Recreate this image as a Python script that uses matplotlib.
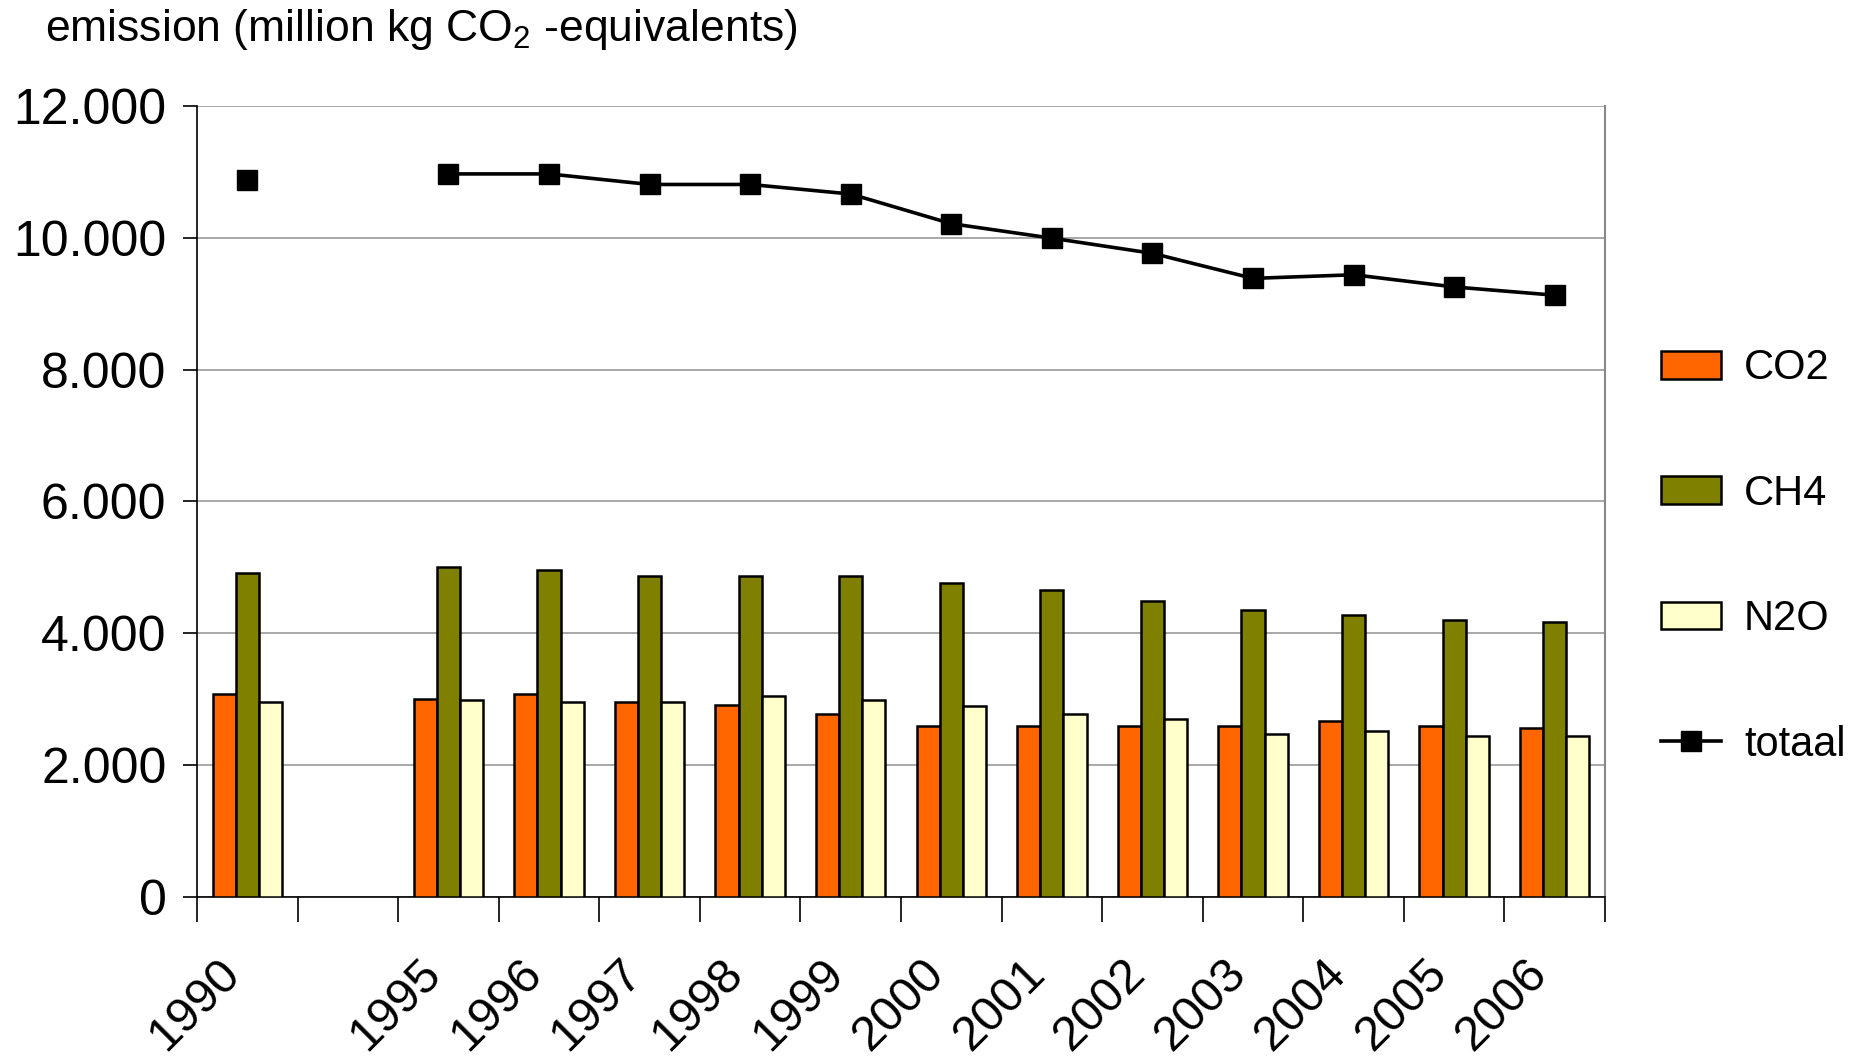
import matplotlib
matplotlib.use("Agg")
import matplotlib.pyplot as plt
import matplotlib.transforms as mtransforms
import numpy as np

plt.rcParams["font.family"] = ["Liberation Sans", "DejaVu Sans"]
plt.rcParams["mathtext.default"] = "regular"

# Categories (empty slot between 1990 and 1995)
years = ["1990", "", "1995", "1996", "1997", "1998", "1999", "2000",
         "2001", "2002", "2003", "2004", "2005", "2006"]
co2 = [3085, np.nan, 3010, 3085, 2960, 2920, 2780, 2600, 2600, 2600, 2600, 2670, 2600, 2560]
ch4 = [4910, np.nan, 5000, 4960, 4870, 4870, 4870, 4765, 4655, 4495, 4350, 4275, 4205, 4170]
n2o = [2960, np.nan, 2995, 2960, 2960, 3050, 2995, 2890, 2780, 2705, 2475, 2525, 2440, 2440]
totaal = [10880, np.nan, 10970, 10970, 10810, 10810, 10665, 10215, 9995, 9765, 9385, 9440, 9255, 9130]

fig = plt.figure(figsize=(18.65, 10.56), dpi=100)
ax = fig.add_axes([0.1056, 0.1506, 0.755, 0.749])

x = np.arange(len(years))
w = 0.23
b1 = ax.bar(x - w, co2, w, color="#FF6600", edgecolor="black", linewidth=1.8, label="CO2", zorder=3)
b2 = ax.bar(x, ch4, w, color="#808000", edgecolor="black", linewidth=1.8, label="CH4", zorder=3)
b3 = ax.bar(x + w, n2o, w, color="#FFFFCC", edgecolor="black", linewidth=1.8, label="N2O", zorder=3)
l1, = ax.plot(x, totaal, color="black", linewidth=2.6, marker="s", markersize=15, label="totaal", zorder=4)

ax.set_xlim(-0.5, len(years) - 0.5)
ax.set_ylim(0, 12000)
ax.set_yticks(np.arange(0, 12001, 2000))
ax.set_yticklabels(["0", "2.000", "4.000", "6.000", "8.000", "10.000", "12.000"])
ax.yaxis.grid(True, color="#999999", linewidth=1.2, zorder=0)
ax.tick_params(axis="y", labelsize=36, length=10, width=1.2, pad=12)

# category labels at slot centres, tick marks at slot boundaries
ax.set_xticks(x)
ax.set_xticklabels(years, rotation=45, ha="right", va="top", rotation_mode="anchor")
ax.tick_params(axis="x", which="major", length=0, labelsize=35, pad=39)
shift = mtransforms.ScaledTranslation(-0.30, 0, fig.dpi_scale_trans)
for lab in ax.get_xticklabels():
    lab.set_transform(lab.get_transform() + shift)
ax.set_xticks(np.arange(-0.5, len(years)), minor=True)
ax.tick_params(axis="x", which="minor", length=18, width=1.2)

ax.spines["top"].set_visible(False)
ax.spines["right"].set_color("#888888")
ax.spines["right"].set_linewidth(1.5)
ax.spines["left"].set_linewidth(1.2)
ax.spines["bottom"].set_linewidth(1.2)

fig.text(0.024, 0.972, "emission (million kg CO$_2$ -equivalents)", fontsize=32, va="center", ha="left")

fig.legend([b1, b2, b3, l1], ["CO2", "CH4", "N2O", "totaal"],
           loc="center left", bbox_to_anchor=(0.8906, 0.473), frameon=False, fontsize=30,
           handlelength=1.44, handleheight=0.65, handletextpad=0.55, labelspacing=2.05,
           borderpad=0, borderaxespad=0)

fig.savefig("out.png", dpi=100)
